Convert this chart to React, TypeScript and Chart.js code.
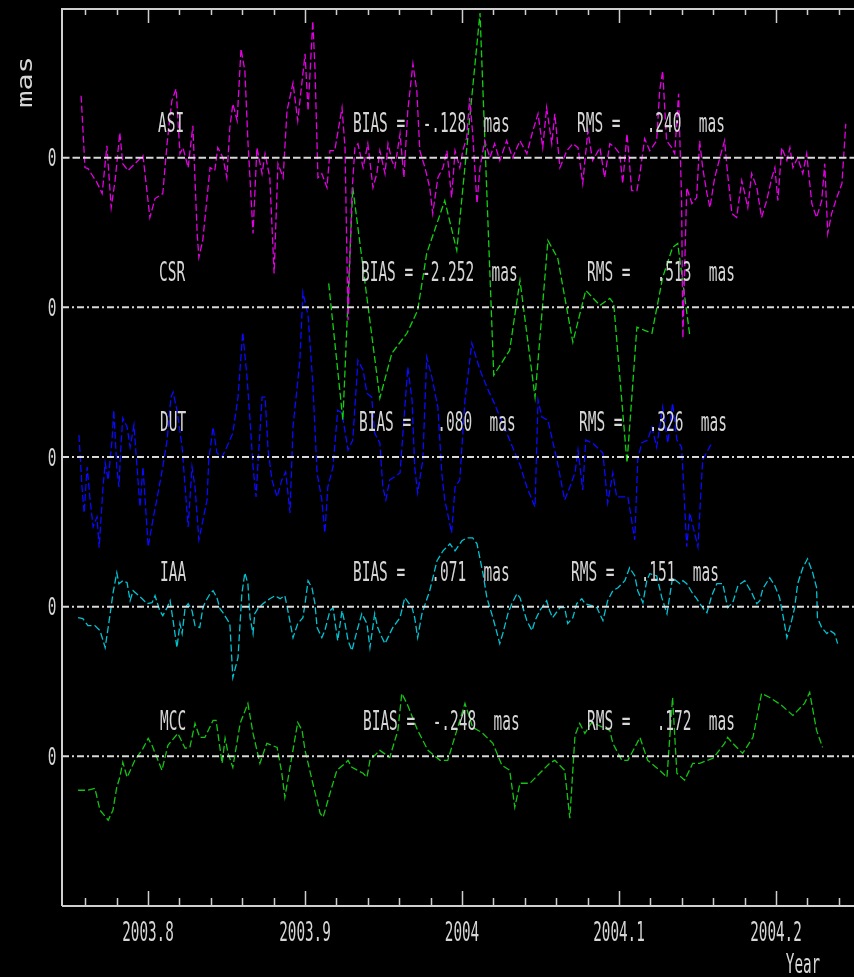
import React, { useEffect, useRef } from 'react';
import { Chart, registerables } from 'chart.js';

Chart.register(...registerables);

// ---------- data (days since 2003.75, values in mas) ----------
const epochYear = 2003.75;
const daysPerYear = 365.25;

const seriesNames = ['ASI', 'CSR', 'DUT', 'IAA', 'MCC'];
const seriesOffsets = [7.5, 6, 4.5, 3, 1.5];
const biasLabels = ['BIAS =  -.128  mas', 'BIAS = -2.252  mas', 'BIAS =   .080  mas', 'BIAS =   .071  mas', 'BIAS =  -.248  mas'];
const rmsLabels = ['RMS =   .240  mas', 'RMS =   .513  mas', 'RMS =   .326  mas', 'RMS =   .151  mas', 'RMS =   .172  mas'];

const xTickLabels = [2003.8, 2003.9, 2004, 2004.1, 2004.2];
const xMinorTicks = [2003.76, 2003.78, 2003.8, 2003.82, 2003.84, 2003.86, 2003.88, 2003.9, 2003.92, 2003.94, 2003.96, 2003.98, 2004.0, 2004.02, 2004.04, 2004.06, 2004.08, 2004.1, 2004.12, 2004.14, 2004.16, 2004.18, 2004.2, 2004.22, 2004.24];

const asiDay = [2.7,3.6,4.3,6.4,7.6,8.7,9.7,10.6,11.0,11.7,12.4,13.6,17.1,18.7,19.9,21.7,22.7,23.8,24.8,25.7,26.4,27.6,28.7,29.7,30.1,31.0,32.7,33.8,34.5,35.7,36.6,37.3,38.0,39.0,39.9,40.8,41.5,42.7,43.6,44.8,45.5,46.6,47.6,48.5,49.7,50.6,52.0,53.1,54.8,55.5,56.6,57.1,57.8,58.7,59.9,60.6,61.7,63.4,64.1,64.8,65.7,66.4,67.1,68.3,69.4,70.6,71.5,72.2,73.4,74.1,75.0,75.7,76.9,77.8,78.7,79.9,80.8,81.5,82.7,83.8,84.5,85.7,86.9,87.8,88.9,89.7,90.8,91.5,92.4,93.1,93.8,94.8,95.5,96.6,97.8,98.9,100.1,101.7,103.1,104.8,106.4,107.8,109.0,110.1,111.0,112.2,112.9,114.1,115.7,117.1,118.3,119.4,120.6,121.7,123.4,124.5,125.7,126.9,128.0,128.7,129.7,130.8,132.0,132.7,133.8,135.0,136.6,137.3,138.0,138.9,140.1,140.8,141.7,142.4,142.7,143.6,144.8,145.9,146.6,147.3,148.3,149.0,150.1,151.3,152.4,153.1,154.1,155.2,156.4,157.1,157.8,158.7,159.9,161.0,162.2,163.4,164.1,164.8,165.7,166.9,167.6,168.3,169.4,170.6,171.5,172.7,173.8,175.0,175.7,176.4,177.3,178.5,179.7,180.6];
const asiMas = [0.62,-0.10,-0.11,-0.25,-0.36,0.12,-0.50,-0.23,-0.06,0.25,-0.06,-0.13,0.02,-0.60,-0.41,-0.36,0.14,0.57,0.69,0.04,0.10,-0.10,0.32,-0.76,-1.00,-0.83,-0.10,-0.13,0.10,0.00,-0.20,0.30,0.54,0.37,1.09,0.87,0.17,-0.76,0.10,-0.16,0.04,-0.20,-1.16,-0.06,-0.20,0.47,0.75,0.37,1.04,0.47,1.37,0.90,-0.20,-0.16,-0.30,0.07,0.07,0.50,0.10,-1.63,-0.36,0.10,0.14,-0.10,0.14,-0.30,-0.16,0.07,-0.16,0.14,-0.03,-0.10,0.24,-0.20,0.47,0.94,0.67,0.07,-0.10,-0.30,-0.56,-0.20,-0.10,0.07,-0.40,0.07,-0.10,0.07,0.20,0.60,0.24,-0.46,-0.10,0.17,0.00,0.14,-0.03,0.17,0.00,0.17,0.04,0.27,0.44,0.10,0.50,0.14,0.44,-0.10,0.07,0.14,0.10,-0.26,0.27,-0.03,0.10,-0.20,0.14,0.10,0.04,-0.26,0.24,-0.33,-0.33,-0.16,0.19,0.07,0.17,0.67,0.87,0.17,0.10,0.04,0.64,-0.43,-1.81,-0.30,-0.46,-0.40,0.17,-0.10,-0.36,-0.50,-0.20,0.00,0.17,-0.16,-0.56,-0.60,-0.23,-0.36,-0.50,-0.16,-0.30,-0.60,-0.43,-0.20,-0.10,-0.43,0.10,-0.03,0.10,-0.10,0.00,-0.16,0.04,-0.46,-0.60,-0.43,-0.06,-0.76,-0.56,-0.40,-0.26,0.34];

const csrDay = [60.3,63.6,65.9,72.2,75.0,78.5,81.0,83.1,87.3,90.1,95.5,98.7,102.4,104.8,108.3,111.3,113.6,117.1,120.1,123.4,125.7,126.6,129.7,132.0,133.8,135.5,138.0,140.3,141.5,144.3];
const csrMas = [0.24,-1.13,1.20,-0.91,-0.46,-0.26,-0.03,0.54,1.07,0.57,2.95,-0.68,-0.43,0.27,-0.90,0.67,0.49,-0.35,0.17,0.02,0.09,0.04,-1.56,-0.20,-0.23,-0.26,0.30,0.60,0.64,-0.28];

const dutDay = [2.2,2.9,3.4,4.1,4.8,5.5,6.4,6.9,7.8,8.3,9.0,9.9,10.3,11.0,11.5,12.0,12.4,13.4,14.1,15.0,15.7,16.4,17.1,18.3,19.4,20.3,21.7,22.7,23.6,24.1,25.0,26.2,26.9,27.6,28.5,29.2,30.1,32.0,32.4,33.4,34.3,35.5,36.6,38.0,39.2,40.3,41.3,42.0,42.7,43.4,43.8,44.8,45.5,46.2,47.1,48.3,49.4,50.3,51.3,52.0,53.6,54.3,55.5,56.6,57.6,58.7,59.4,60.1,61.3,62.4,63.4,64.8,65.9,67.1,68.3,69.2,70.3,71.0,72.2,72.9,73.6,74.5,76.9,78.7,79.7,80.3,81.0,82.2,83.1,84.3,85.7,86.6,87.3,88.9,89.7,90.8,92.0,93.6,95.5,97.1,98.5,102.4,104.8,106.4,108.3,109.0,109.9,111.3,113.4,115.2,116.4,117.6,118.3,119.4,120.1,121.7,124.1,125.2,126.4,127.3,128.5,129.9,131.5,132.2,133.1,134.5,135.5,136.6,138.0,139.2,140.3,141.3,142.4,143.6,144.3,146.2,147.3,149.4];
const dutMas = [0.22,-0.30,-0.56,-0.10,-0.43,-0.70,-0.60,-0.91,-0.30,-0.06,-0.23,0.17,0.47,-0.10,-0.30,0.14,0.39,0.30,0.10,0.32,-0.10,-0.50,-0.10,-0.90,-0.63,-0.43,-0.10,0.17,0.60,0.65,0.47,0.10,-0.30,-0.70,-0.10,-0.30,-0.83,-0.43,-0.03,0.30,0.04,0.00,0.10,0.24,0.60,1.25,0.80,0.37,-0.10,-0.40,-0.10,0.60,0.60,0.07,-0.23,-0.40,-0.23,-0.15,-0.56,0.30,0.97,1.65,1.42,0.74,-0.16,-0.43,-0.76,-0.30,-0.10,0.47,0.44,0.07,0.17,0.97,0.87,0.64,0.60,0.24,0.14,-0.30,-0.43,-0.23,-0.16,0.90,0.57,-0.10,-0.36,-0.03,1.00,0.80,0.50,-0.16,-0.43,-0.76,-0.30,-0.23,0.57,1.14,0.87,0.70,0.57,0.17,-0.08,-0.30,-0.50,0.57,0.40,0.37,-0.03,-0.43,-0.30,-0.16,0.07,-0.33,0.17,0.14,0.04,-0.46,-0.16,-0.40,-0.40,-0.40,-0.83,-0.03,0.14,0.17,0.30,0.10,0.50,0.14,0.54,0.17,0.10,-0.90,-0.56,-0.90,-0.03,0.14];

const iaaDay = [2.0,3.1,4.3,5.9,7.1,8.3,9.4,10.1,11.0,11.5,12.4,13.4,14.1,14.8,16.9,18.0,19.2,19.9,21.0,21.7,22.7,23.4,24.1,25.0,25.7,26.2,26.9,27.6,28.5,29.2,30.3,31.0,31.5,32.7,33.4,34.3,35.0,35.7,37.3,38.0,39.2,40.1,40.8,41.5,42.0,42.7,43.1,43.8,45.0,46.6,47.8,49.0,50.1,50.8,52.0,53.1,54.3,54.8,55.5,56.4,57.1,57.6,58.7,59.4,60.6,61.3,62.4,63.4,64.1,64.8,65.7,66.9,68.0,69.2,69.9,71.0,71.7,72.7,73.4,75.2,76.9,78.0,79.7,80.3,81.0,82.0,83.8,85.5,86.9,88.5,89.7,91.3,92.4,93.8,94.8,96.2,97.1,98.5,100.1,100.8,102.0,102.9,104.1,104.8,106.4,107.6,108.3,109.4,111.0,111.7,112.4,114.1,115.2,115.9,117.1,118.0,119.2,119.9,121.5,122.7,124.1,125.2,126.4,127.6,129.2,130.3,131.5,132.2,133.4,134.3,135.0,136.6,137.8,139.0,140.3,142.0,142.7,143.6,145.0,145.9,147.3,148.3,149.4,150.6,152.0,153.1,154.3,155.5,157.1,158.7,159.9,160.6,161.3,162.9,164.1,165.2,165.9,166.9,168.0,168.7,169.4,170.6,171.7,172.9,173.8,174.0,175.0,176.2,176.9,178.0,178.7];
const iaaMas = [-0.11,-0.12,-0.19,-0.19,-0.24,-0.41,-0.09,0.13,0.34,0.23,0.26,0.24,0.06,0.16,0.08,0.03,0.04,0.11,-0.04,-0.09,-0.01,0.06,-0.14,-0.41,-0.17,-0.27,-0.01,0.03,-0.04,-0.19,-0.21,-0.02,0.04,0.13,0.16,0.09,-0.02,-0.06,-0.17,-0.71,-0.51,0.13,0.34,0.23,-0.11,-0.27,-0.07,-0.02,0.03,0.08,0.11,0.08,0.11,-0.04,-0.31,-0.17,-0.11,0.03,0.26,0.19,0.03,-0.21,-0.31,-0.24,-0.04,-0.01,-0.34,-0.04,-0.17,-0.34,-0.44,-0.24,-0.07,-0.17,-0.41,-0.07,-0.21,-0.31,-0.37,-0.21,-0.11,0.09,-0.01,-0.11,-0.31,-0.07,0.16,0.46,0.56,0.63,0.56,0.66,0.69,0.69,0.63,0.33,0.09,-0.11,-0.37,-0.27,-0.07,0.03,0.13,0.09,-0.14,-0.24,-0.14,-0.04,0.06,-0.04,-0.11,-0.01,-0.01,-0.17,-0.11,0.03,0.08,0.03,0.01,-0.01,-0.14,0.06,0.16,0.19,0.26,0.39,0.31,0.16,0.04,0.26,0.33,0.31,0.09,-0.07,0.29,0.23,0.26,0.23,0.13,0.08,-0.01,-0.06,0.11,0.23,0.23,-0.01,0.04,0.21,0.26,0.14,0.03,0.06,0.18,0.29,0.21,0.09,-0.07,-0.31,-0.14,-0.01,0.23,0.39,0.48,0.34,0.19,-0.11,-0.21,-0.27,-0.24,-0.27,-0.37];

const mccDay = [2.0,4.3,5.9,7.1,9.0,10.1,11.0,11.7,12.4,13.4,15.2,17.1,18.3,19.2,21.5,22.9,25.2,26.9,28.0,29.2,30.3,31.5,33.4,34.1,35.5,36.2,36.9,38.0,39.7,41.5,42.7,44.3,45.9,48.3,49.4,50.1,51.3,53.1,54.1,54.8,56.6,58.3,59.0,60.6,62.2,64.1,64.8,65.7,68.3,69.2,69.9,72.2,74.5,76.4,77.3,78.5,81.0,83.4,86.2,88.0,90.1,92.0,93.8,95.9,98.5,100.6,102.4,103.6,104.8,107.1,109.4,111.7,112.9,115.2,116.4,117.6,118.7,119.9,121.5,125.7,126.4,128.5,129.9,132.0,132.7,134.5,137.3,139.0,140.3,141.3,143.1,145.0,146.6,149.7,152.4,153.1,154.3,156.6,159.0,161.0,162.9,165.7,168.3,171.0,172.2,173.8,175.2];
const mccMas = [-0.34,-0.34,-0.32,-0.54,-0.64,-0.54,-0.31,-0.21,-0.06,-0.21,-0.04,0.08,0.18,0.11,-0.14,0.11,0.23,0.08,0.09,0.33,0.19,0.19,0.36,0.36,-0.07,0.18,0.03,-0.11,0.33,0.53,0.23,-0.07,0.13,0.09,-0.17,-0.41,-0.11,0.34,0.26,0.06,-0.27,-0.57,-0.61,-0.37,-0.14,-0.07,-0.04,-0.11,-0.17,-0.21,-0.04,0.06,-0.01,0.26,0.63,0.53,0.26,0.06,-0.04,-0.04,0.26,0.53,0.29,0.24,0.13,-0.09,-0.14,-0.51,-0.27,-0.27,-0.17,-0.07,-0.04,-0.14,-0.62,0.21,0.33,0.23,0.34,0.26,0.13,-0.04,-0.04,0.13,0.19,-0.04,-0.14,-0.21,0.59,-0.17,-0.24,-0.07,-0.07,-0.02,0.13,0.19,0.13,0.03,0.19,0.63,0.59,0.51,0.41,0.53,0.64,0.26,0.09];

const seriesDays = [asiDay, csrDay, dutDay, iaaDay, mccDay];
const seriesValues = [asiMas, csrMas, dutMas, iaaMas, mccMas];

// ---------- styling / layout ----------
const seriesColors = ['#e400e4', '#10d010', '#0a0aff', '#00c4d4', '#14c414'];
const textColor = '#d6d6d6';
const axisColor = '#cfcfcf';
const X_MIN = 2003.74522;
const X_MAX = 2004.24968;
const Y_MIN = 0;
const Y_MAX = 9;
const nameX = [158, 159, 160, 160, 160];
const biasX = [353, 361, 359, 353, 363];
const rmsX = [577, 587, 579, 571, 587];
const MONO = '"DejaVu Sans Mono", "Liberation Mono", monospace';

function drawText(ctx: CanvasRenderingContext2D, text: string, x: number, y: number, size: number, sx: number, align: CanvasTextAlign) {
  ctx.save();
  ctx.font = `${size}px ${MONO}`;
  ctx.fillStyle = textColor;
  ctx.textAlign = align;
  ctx.textBaseline = 'alphabetic';
  ctx.translate(x, y);
  ctx.scale(sx, 1);
  ctx.fillText(text, 0, 0);
  ctx.restore();
}

const framePlugin = {
  id: 'framePlugin',
  beforeDraw(chart: any) {
    const ctx = chart.ctx as CanvasRenderingContext2D;
    ctx.save();
    ctx.fillStyle = '#000';
    ctx.fillRect(0, 0, chart.width, chart.height);
    ctx.restore();
  },
  afterDraw(chart: any) {
    const ctx = chart.ctx as CanvasRenderingContext2D;
    const { left, right, top, bottom } = chart.chartArea;
    const xs = chart.scales.x;
    const ys = chart.scales.y;
    ctx.save();
    ctx.strokeStyle = axisColor;
    ctx.lineWidth = 2;
    ctx.setLineDash([]);
    ctx.beginPath();
    ctx.moveTo(left, top);
    ctx.lineTo(left, bottom);
    ctx.moveTo(left, top + 1);
    ctx.lineTo(right, top + 1);
    ctx.moveTo(left, bottom);
    ctx.lineTo(right, bottom);
    ctx.stroke();

    ctx.lineWidth = 1.5;
    ctx.beginPath();
    for (const v of xMinorTicks) {
      const px = Math.round(xs.getPixelForValue(v)) + 0.5;
      const major = xTickLabels.some((t) => Math.abs(t - v) < 1e-6);
      ctx.moveTo(px, bottom);
      ctx.lineTo(px, bottom - (major ? 15 : 8));
      ctx.moveTo(px, top + 1);
      ctx.lineTo(px, top + 1 + (major ? 14 : 6));
    }
    ctx.stroke();
    ctx.restore();

    for (const t of xTickLabels) {
      drawText(ctx, String(t), xs.getPixelForValue(t), bottom + 34.5, 26, 0.55, 'center');
    }
    drawText(ctx, 'Year', right - 51, bottom + 66.5, 26, 0.55, 'center');

    // rotated unit label
    ctx.save();
    ctx.translate(32, 82);
    ctx.rotate(-Math.PI / 2);
    ctx.font = `22px ${MONO}`;
    ctx.fillStyle = textColor;
    ctx.textAlign = 'center';
    ctx.textBaseline = 'alphabetic';
    ctx.scale(1.3, 1);
    ctx.fillText('mas', 0, 0);
    ctx.restore();

    seriesNames.forEach((name, i) => {
      const zy = ys.getPixelForValue(seriesOffsets[i]);
      drawText(ctx, '0', left - 10, zy + 8.5, 24, 0.6, 'center');
      drawText(ctx, name, nameX[i], zy - 26, 26, 0.556, 'left');
      drawText(ctx, biasLabels[i], biasX[i], zy - 26, 26, 0.556, 'left');
      drawText(ctx, rmsLabels[i], rmsX[i], zy - 26, 26, 0.556, 'left');
    });
  },
};

export default function App() {
  const canvasRef = useRef<HTMLCanvasElement | null>(null);

  useEffect(() => {
    const canvas = canvasRef.current;
    if (!canvas) return;

    const datasets: any[] = [];
    seriesNames.forEach((name, i) => {
      datasets.push({
        label: name + ' zero',
        data: [
          { x: X_MIN, y: seriesOffsets[i] },
          { x: X_MAX, y: seriesOffsets[i] },
        ],
        borderColor: '#d8d8d8',
        borderWidth: 2,
        borderDash: i === 0 ? [7.5, 3] : [7, 3, 2, 3],
        pointRadius: 0,
        order: 0,
      });
    });
    seriesNames.forEach((name, i) => {
      const days = seriesDays[i];
      const vals = seriesValues[i];
      const n = Math.min(days.length, vals.length);
      const pts = [] as { x: number; y: number }[];
      for (let k = 0; k < n; k++) {
        pts.push({ x: epochYear + days[k] / daysPerYear, y: seriesOffsets[i] + vals[k] });
      }
      datasets.push({
        label: name,
        data: pts,
        borderColor: seriesColors[i],
        borderWidth: 1.3,
        borderDash: [7, 3],
        pointRadius: 0,
        tension: 0,
        order: 1,
      });
    });

    const chart = new Chart(canvas, {
      type: 'line',
      data: { datasets },
      options: {
        responsive: false,
        maintainAspectRatio: false,
        devicePixelRatio: 1,
        animation: false,
        events: [],
        layout: { padding: { left: 62, top: 8, right: 0, bottom: 71 } },
        plugins: { legend: { display: false }, tooltip: { enabled: false } },
        scales: {
          x: { type: 'linear', min: X_MIN, max: X_MAX, display: false },
          y: { type: 'linear', min: Y_MIN, max: Y_MAX, display: false },
        },
      },
      plugins: [framePlugin],
    });
    return () => chart.destroy();
  }, []);

  return (
    <div style={{ position: 'fixed', left: 0, top: 0, width: 854, height: 977, background: '#000', overflow: 'hidden' }}>
      <canvas ref={canvasRef} width={854} height={977} style={{ display: 'block' }} />
    </div>
  );
}
